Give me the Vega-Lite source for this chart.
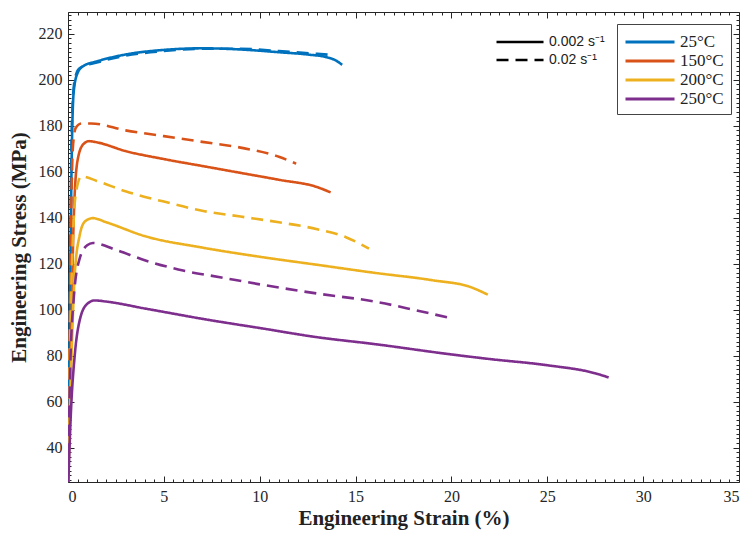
{
  "$schema": "https://vega.github.io/schema/vega-lite/v6.json",
  "width": 671,
  "height": 470,
  "autosize": "none",
  "padding": {"left": 68, "top": 12, "right": 7, "bottom": 56},
  "background": "white",
  "config": {
    "view": {"stroke": "#262626", "strokeWidth": 1},
    "font": "Liberation Serif",
    "axis": {"grid": false, "domain": false, "tickColor": "#262626", "tickWidth": 1, "labelColor": "#262626", "labelFont": "Liberation Serif", "labelFontSize": 16, "titleFont": "Liberation Serif", "titleFontSize": 21, "titleFontWeight": "bold", "titleColor": "#222"}
  },
  "datasets": {
    "curves": [
      {"T": "25°C", "rate": "0.002 s⁻¹", "strain": 0.0, "stress": 20},
      {"T": "25°C", "rate": "0.002 s⁻¹", "strain": 0.1, "stress": 100},
      {"T": "25°C", "rate": "0.002 s⁻¹", "strain": 0.2, "stress": 170},
      {"T": "25°C", "rate": "0.002 s⁻¹", "strain": 0.3, "stress": 195},
      {"T": "25°C", "rate": "0.002 s⁻¹", "strain": 0.5, "stress": 203},
      {"T": "25°C", "rate": "0.002 s⁻¹", "strain": 0.8, "stress": 206},
      {"T": "25°C", "rate": "0.002 s⁻¹", "strain": 1.5, "stress": 208},
      {"T": "25°C", "rate": "0.002 s⁻¹", "strain": 3, "stress": 211},
      {"T": "25°C", "rate": "0.002 s⁻¹", "strain": 5, "stress": 213},
      {"T": "25°C", "rate": "0.002 s⁻¹", "strain": 7, "stress": 213.7},
      {"T": "25°C", "rate": "0.002 s⁻¹", "strain": 9, "stress": 213.2},
      {"T": "25°C", "rate": "0.002 s⁻¹", "strain": 11, "stress": 212},
      {"T": "25°C", "rate": "0.002 s⁻¹", "strain": 12.5, "stress": 211},
      {"T": "25°C", "rate": "0.002 s⁻¹", "strain": 13.5, "stress": 209.8},
      {"T": "25°C", "rate": "0.002 s⁻¹", "strain": 14.0, "stress": 208.3},
      {"T": "25°C", "rate": "0.002 s⁻¹", "strain": 14.3, "stress": 206.5},
      {"T": "25°C", "rate": "0.02 s⁻¹", "strain": 0.0, "stress": 20},
      {"T": "25°C", "rate": "0.02 s⁻¹", "strain": 0.1, "stress": 110},
      {"T": "25°C", "rate": "0.02 s⁻¹", "strain": 0.2, "stress": 180},
      {"T": "25°C", "rate": "0.02 s⁻¹", "strain": 0.35, "stress": 200},
      {"T": "25°C", "rate": "0.02 s⁻¹", "strain": 0.6, "stress": 205},
      {"T": "25°C", "rate": "0.02 s⁻¹", "strain": 1.5, "stress": 207.5},
      {"T": "25°C", "rate": "0.02 s⁻¹", "strain": 3, "stress": 210.5},
      {"T": "25°C", "rate": "0.02 s⁻¹", "strain": 5, "stress": 212.5},
      {"T": "25°C", "rate": "0.02 s⁻¹", "strain": 7, "stress": 213.5},
      {"T": "25°C", "rate": "0.02 s⁻¹", "strain": 9, "stress": 213.5},
      {"T": "25°C", "rate": "0.02 s⁻¹", "strain": 11, "stress": 212.5},
      {"T": "25°C", "rate": "0.02 s⁻¹", "strain": 13, "stress": 211.3},
      {"T": "25°C", "rate": "0.02 s⁻¹", "strain": 13.8, "stress": 210.8},
      {"T": "150°C", "rate": "0.002 s⁻¹", "strain": 0.0, "stress": 20},
      {"T": "150°C", "rate": "0.002 s⁻¹", "strain": 0.15, "stress": 80},
      {"T": "150°C", "rate": "0.002 s⁻¹", "strain": 0.3, "stress": 140},
      {"T": "150°C", "rate": "0.002 s⁻¹", "strain": 0.5, "stress": 165},
      {"T": "150°C", "rate": "0.002 s⁻¹", "strain": 0.8, "stress": 172},
      {"T": "150°C", "rate": "0.002 s⁻¹", "strain": 1.1, "stress": 173.3},
      {"T": "150°C", "rate": "0.002 s⁻¹", "strain": 1.5, "stress": 172.8},
      {"T": "150°C", "rate": "0.002 s⁻¹", "strain": 3, "stress": 169},
      {"T": "150°C", "rate": "0.002 s⁻¹", "strain": 5, "stress": 165.5},
      {"T": "150°C", "rate": "0.002 s⁻¹", "strain": 7, "stress": 162.5},
      {"T": "150°C", "rate": "0.002 s⁻¹", "strain": 9, "stress": 159.5},
      {"T": "150°C", "rate": "0.002 s⁻¹", "strain": 11, "stress": 156.5},
      {"T": "150°C", "rate": "0.002 s⁻¹", "strain": 13, "stress": 153.3},
      {"T": "150°C", "rate": "0.002 s⁻¹", "strain": 13.7, "stress": 151},
      {"T": "150°C", "rate": "0.02 s⁻¹", "strain": 0.0, "stress": 20},
      {"T": "150°C", "rate": "0.02 s⁻¹", "strain": 0.1, "stress": 100},
      {"T": "150°C", "rate": "0.02 s⁻¹", "strain": 0.25, "stress": 170},
      {"T": "150°C", "rate": "0.02 s⁻¹", "strain": 0.4, "stress": 179},
      {"T": "150°C", "rate": "0.02 s⁻¹", "strain": 0.7, "stress": 181},
      {"T": "150°C", "rate": "0.02 s⁻¹", "strain": 1.2, "stress": 181},
      {"T": "150°C", "rate": "0.02 s⁻¹", "strain": 3, "stress": 178},
      {"T": "150°C", "rate": "0.02 s⁻¹", "strain": 5, "stress": 175.5},
      {"T": "150°C", "rate": "0.02 s⁻¹", "strain": 7, "stress": 173},
      {"T": "150°C", "rate": "0.02 s⁻¹", "strain": 9, "stress": 170.5},
      {"T": "150°C", "rate": "0.02 s⁻¹", "strain": 11, "stress": 166.5},
      {"T": "150°C", "rate": "0.02 s⁻¹", "strain": 11.9, "stress": 163.5},
      {"T": "200°C", "rate": "0.002 s⁻¹", "strain": 0.0, "stress": 20},
      {"T": "200°C", "rate": "0.002 s⁻¹", "strain": 0.15, "stress": 70},
      {"T": "200°C", "rate": "0.002 s⁻¹", "strain": 0.35, "stress": 115},
      {"T": "200°C", "rate": "0.002 s⁻¹", "strain": 0.6, "stress": 132},
      {"T": "200°C", "rate": "0.002 s⁻¹", "strain": 0.9, "stress": 138.5},
      {"T": "200°C", "rate": "0.002 s⁻¹", "strain": 1.3, "stress": 139.8},
      {"T": "200°C", "rate": "0.002 s⁻¹", "strain": 2, "stress": 138},
      {"T": "200°C", "rate": "0.002 s⁻¹", "strain": 4, "stress": 132},
      {"T": "200°C", "rate": "0.002 s⁻¹", "strain": 7, "stress": 127},
      {"T": "200°C", "rate": "0.002 s⁻¹", "strain": 10, "stress": 123},
      {"T": "200°C", "rate": "0.002 s⁻¹", "strain": 13, "stress": 119.5},
      {"T": "200°C", "rate": "0.002 s⁻¹", "strain": 16, "stress": 116},
      {"T": "200°C", "rate": "0.002 s⁻¹", "strain": 19, "stress": 112.8},
      {"T": "200°C", "rate": "0.002 s⁻¹", "strain": 21, "stress": 109.8},
      {"T": "200°C", "rate": "0.002 s⁻¹", "strain": 21.9, "stress": 106.5},
      {"T": "200°C", "rate": "0.02 s⁻¹", "strain": 0.0, "stress": 20},
      {"T": "200°C", "rate": "0.02 s⁻¹", "strain": 0.1, "stress": 80},
      {"T": "200°C", "rate": "0.02 s⁻¹", "strain": 0.25, "stress": 130},
      {"T": "200°C", "rate": "0.02 s⁻¹", "strain": 0.4, "stress": 150},
      {"T": "200°C", "rate": "0.02 s⁻¹", "strain": 0.7, "stress": 158},
      {"T": "200°C", "rate": "0.02 s⁻¹", "strain": 1.5, "stress": 156},
      {"T": "200°C", "rate": "0.02 s⁻¹", "strain": 3, "stress": 151.5},
      {"T": "200°C", "rate": "0.02 s⁻¹", "strain": 5, "stress": 147},
      {"T": "200°C", "rate": "0.02 s⁻¹", "strain": 7, "stress": 143},
      {"T": "200°C", "rate": "0.02 s⁻¹", "strain": 9, "stress": 140.5},
      {"T": "200°C", "rate": "0.02 s⁻¹", "strain": 11, "stress": 138},
      {"T": "200°C", "rate": "0.02 s⁻¹", "strain": 13, "stress": 135},
      {"T": "200°C", "rate": "0.02 s⁻¹", "strain": 14.5, "stress": 131.5},
      {"T": "200°C", "rate": "0.02 s⁻¹", "strain": 15.7, "stress": 126.5},
      {"T": "250°C", "rate": "0.002 s⁻¹", "strain": 0.0, "stress": 20},
      {"T": "250°C", "rate": "0.002 s⁻¹", "strain": 0.15, "stress": 55},
      {"T": "250°C", "rate": "0.002 s⁻¹", "strain": 0.35, "stress": 80},
      {"T": "250°C", "rate": "0.002 s⁻¹", "strain": 0.6, "stress": 95},
      {"T": "250°C", "rate": "0.002 s⁻¹", "strain": 1.0, "stress": 102.5},
      {"T": "250°C", "rate": "0.002 s⁻¹", "strain": 1.4, "stress": 104},
      {"T": "250°C", "rate": "0.002 s⁻¹", "strain": 2, "stress": 103.5},
      {"T": "250°C", "rate": "0.002 s⁻¹", "strain": 4, "stress": 100.5},
      {"T": "250°C", "rate": "0.002 s⁻¹", "strain": 5, "stress": 99},
      {"T": "250°C", "rate": "0.002 s⁻¹", "strain": 7, "stress": 96},
      {"T": "250°C", "rate": "0.002 s⁻¹", "strain": 10, "stress": 92},
      {"T": "250°C", "rate": "0.002 s⁻¹", "strain": 13, "stress": 88},
      {"T": "250°C", "rate": "0.002 s⁻¹", "strain": 16, "stress": 85},
      {"T": "250°C", "rate": "0.002 s⁻¹", "strain": 20, "stress": 80.5},
      {"T": "250°C", "rate": "0.002 s⁻¹", "strain": 22, "stress": 78.5},
      {"T": "250°C", "rate": "0.002 s⁻¹", "strain": 25, "stress": 75.8},
      {"T": "250°C", "rate": "0.002 s⁻¹", "strain": 27.5, "stress": 72.3},
      {"T": "250°C", "rate": "0.002 s⁻¹", "strain": 28.2, "stress": 70.5},
      {"T": "250°C", "rate": "0.02 s⁻¹", "strain": 0.0, "stress": 20},
      {"T": "250°C", "rate": "0.02 s⁻¹", "strain": 0.1, "stress": 70},
      {"T": "250°C", "rate": "0.02 s⁻¹", "strain": 0.3, "stress": 105},
      {"T": "250°C", "rate": "0.02 s⁻¹", "strain": 0.6, "stress": 122},
      {"T": "250°C", "rate": "0.02 s⁻¹", "strain": 1.0, "stress": 128},
      {"T": "250°C", "rate": "0.02 s⁻¹", "strain": 1.3, "stress": 129},
      {"T": "250°C", "rate": "0.02 s⁻¹", "strain": 2.5, "stress": 126},
      {"T": "250°C", "rate": "0.02 s⁻¹", "strain": 4, "stress": 121.5},
      {"T": "250°C", "rate": "0.02 s⁻¹", "strain": 6, "stress": 117},
      {"T": "250°C", "rate": "0.02 s⁻¹", "strain": 8, "stress": 114},
      {"T": "250°C", "rate": "0.02 s⁻¹", "strain": 10, "stress": 111},
      {"T": "250°C", "rate": "0.02 s⁻¹", "strain": 13, "stress": 107},
      {"T": "250°C", "rate": "0.02 s⁻¹", "strain": 16, "stress": 103.5},
      {"T": "250°C", "rate": "0.02 s⁻¹", "strain": 18, "stress": 100},
      {"T": "250°C", "rate": "0.02 s⁻¹", "strain": 20.1, "stress": 96}
    ]
  },
  "data": {"name": "curves"},
  "resolve": {"axis": {"x": "independent", "y": "independent"}},
  "layer": [
    {
      "mark": {"type": "line", "strokeWidth": 2.6, "clip": true, "interpolate": "monotone"},
      "encoding": {
        "x": {"field": "strain", "type": "quantitative", "scale": {"domain": [0, 35], "nice": false, "zero": false},
          "axis": {"orient": "bottom", "values": [0, 5, 10, 15, 20, 25, 30, 35], "tickSize": -6, "labelPadding": 12, "title": "Engineering Strain (%)", "titlePadding": 3}},
        "y": {"field": "stress", "type": "quantitative", "scale": {"domain": [25, 229.5], "nice": false, "zero": false},
          "axis": {"orient": "left", "values": [40, 60, 80, 100, 120, 140, 160, 180, 200, 220], "tickSize": -6, "labelPadding": 12, "title": "Engineering Stress (MPa)", "titlePadding": 9}},
        "color": {"field": "T", "type": "nominal", "sort": ["25°C", "150°C", "200°C", "250°C"],
          "scale": {"domain": ["25°C", "150°C", "200°C", "250°C"], "range": ["#0072BD", "#D95319", "#EDB120", "#7E2F8E"]},
          "legend": {"orient": "none", "legendX": 549, "legendY": 12, "title": null, "symbolType": "M-1,0H4.16", "symbolSize": 361, "symbolStrokeWidth": 3, "labelFont": "Liberation Serif", "labelFontSize": 17, "labelColor": "#222", "labelOffset": 34, "padding": 7, "rowPadding": 0, "strokeColor": "#444", "fillColor": "white"}},
        "strokeDash": {"field": "rate", "type": "nominal", "sort": ["0.002 s⁻¹", "0.02 s⁻¹"],
          "scale": {"domain": ["0.002 s⁻¹", "0.02 s⁻¹"], "range": [[1, 0], [12, 7]]},
          "legend": {"orient": "none", "legendX": 420, "legendY": 12, "title": null, "symbolType": "M-1,0H3.95", "symbolSize": 361, "symbolStrokeWidth": 2.5, "symbolStrokeColor": "black", "labelFont": "Liberation Sans", "labelFontSize": 14, "labelColor": "#222", "labelOffset": 32, "padding": 7, "rowPadding": 0}},
        "detail": {"field": "T"}
      }
    },
    {
      "mark": {"type": "point", "opacity": 0},
      "encoding": {
        "x": {"field": "strain", "type": "quantitative", "axis": {"orient": "bottom", "values": [0.5,1,1.5,2,2.5,3,3.5,4,4.5,5.5,6,6.5,7,7.5,8,8.5,9,9.5,10.5,11,11.5,12,12.5,13,13.5,14,14.5,15.5,16,16.5,17,17.5,18,18.5,19,19.5,20.5,21,21.5,22,22.5,23,23.5,24,24.5,25.5,26,26.5,27,27.5,28,28.5,29,29.5,30.5,31,31.5,32,32.5,33,33.5,34,34.5], "tickSize": -3, "labels": false, "title": null}},
        "y": {"field": "stress", "type": "quantitative", "axis": {"orient": "left", "values": [26,28,30,32,34,36,38,42,44,46,48,50,52,54,56,58,62,64,66,68,70,72,74,76,78,82,84,86,88,90,92,94,96,98,102,104,106,108,110,112,114,116,118,122,124,126,128,130,132,134,136,138,142,144,146,148,150,152,154,156,158,162,164,166,168,170,172,174,176,178,182,184,186,188,190,192,194,196,198,202,204,206,208,210,212,214,216,218,222,224,226,228], "tickSize": -3, "labels": false, "title": null}}
      }
    },
    {
      "mark": {"type": "point", "opacity": 0},
      "encoding": {
        "x": {"field": "strain", "type": "quantitative", "axis": {"orient": "top", "values": [0, 5, 10, 15, 20, 25, 30, 35], "tickSize": -6, "labels": false, "title": null}},
        "y": {"field": "stress", "type": "quantitative", "axis": {"orient": "right", "values": [40, 60, 80, 100, 120, 140, 160, 180, 200, 220], "tickSize": -6, "labels": false, "title": null}}
      }
    },
    {
      "mark": {"type": "point", "opacity": 0},
      "encoding": {
        "x": {"field": "strain", "type": "quantitative", "axis": {"orient": "top", "values": [0.5,1,1.5,2,2.5,3,3.5,4,4.5,5.5,6,6.5,7,7.5,8,8.5,9,9.5,10.5,11,11.5,12,12.5,13,13.5,14,14.5,15.5,16,16.5,17,17.5,18,18.5,19,19.5,20.5,21,21.5,22,22.5,23,23.5,24,24.5,25.5,26,26.5,27,27.5,28,28.5,29,29.5,30.5,31,31.5,32,32.5,33,33.5,34,34.5], "tickSize": -3, "labels": false, "title": null}},
        "y": {"field": "stress", "type": "quantitative", "axis": {"orient": "right", "values": [26,28,30,32,34,36,38,42,44,46,48,50,52,54,56,58,62,64,66,68,70,72,74,76,78,82,84,86,88,90,92,94,96,98,102,104,106,108,110,112,114,116,118,122,124,126,128,130,132,134,136,138,142,144,146,148,150,152,154,156,158,162,164,166,168,170,172,174,176,178,182,184,186,188,190,192,194,196,198,202,204,206,208,210,212,214,216,218,222,224,226,228], "tickSize": -3, "labels": false, "title": null}}
      }
    }
  ]
}
